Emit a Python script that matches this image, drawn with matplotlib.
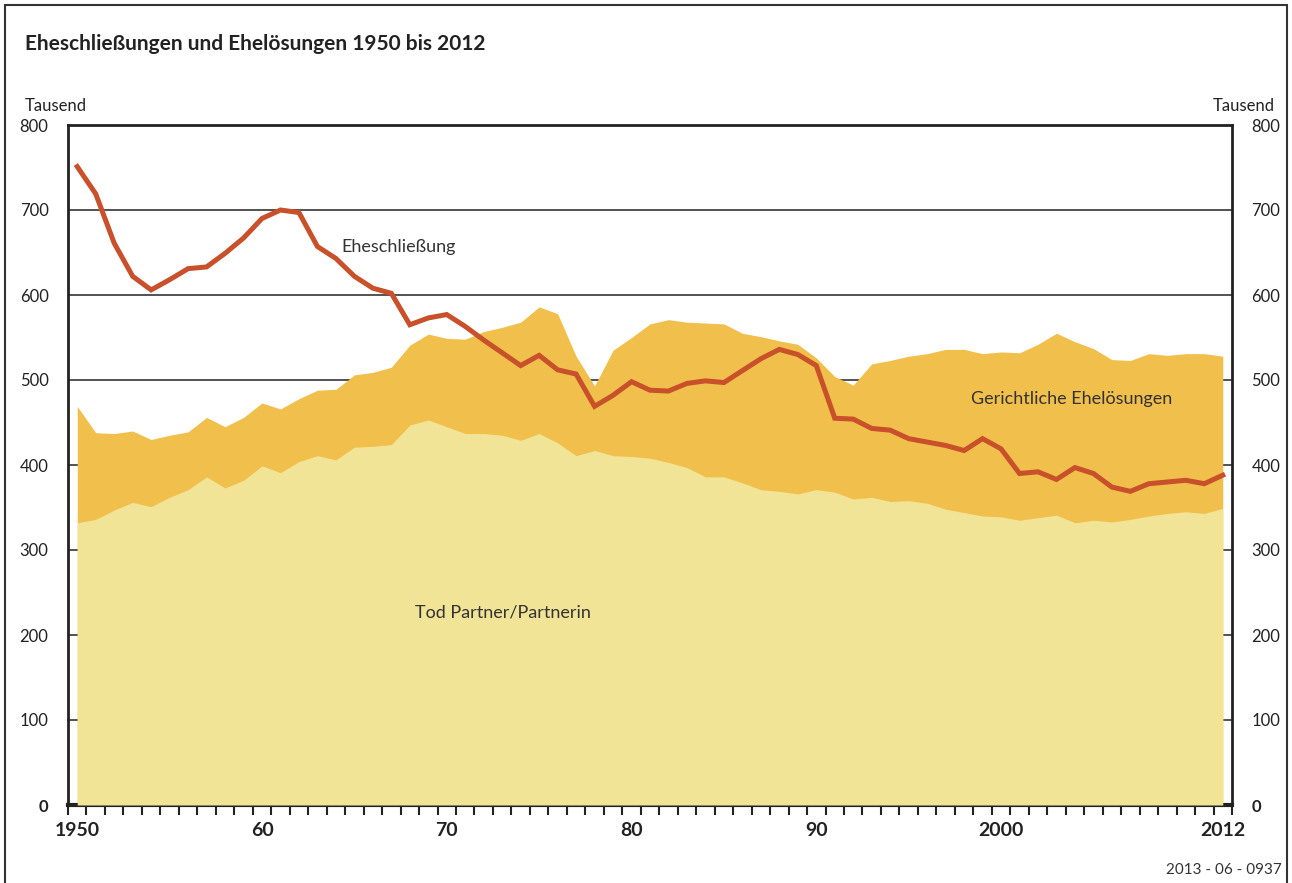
import matplotlib.pyplot as plt
from matplotlib.patches import Rectangle
import numpy as np

plt.rcParams['font.family'] = ['Lato', 'DejaVu Sans']

years = list(range(1950, 2013))

# Eheschliessungen (Tausend)
heirat = [751, 719, 661, 622, 606, 618, 631, 633, 649, 667, 690, 700, 697, 657, 643, 622,
          608, 602, 565, 573, 577, 563, 547, 532, 517, 529, 512, 507, 469, 482, 498, 488,
          487, 496, 499, 497, 511, 525, 536, 530, 517, 455, 454, 443, 441, 431, 427, 423,
          417, 431, 419, 390, 392, 383, 397, 390, 374, 369, 378, 380, 382, 378, 388]

# Ehelösungen durch Tod Partner/Partnerin
tod = [332, 336, 347, 356, 351, 362, 371, 386, 373, 382, 399, 391, 404, 411, 406, 421,
       422, 424, 447, 453, 445, 437, 437, 435, 429, 437, 426, 411, 417, 411, 410, 408,
       403, 397, 386, 386, 379, 371, 369, 366, 371, 368, 360, 362, 357, 358, 355, 348,
       344, 340, 339, 335, 338, 341, 332, 335, 333, 336, 340, 343, 345, 343, 349]

# Ehelösungen insgesamt (Tod + gerichtlich)
gesamt = [469, 438, 437, 440, 430, 435, 439, 456, 445, 456, 473, 466, 478, 488, 489, 506,
          509, 515, 541, 554, 549, 548, 557, 562, 568, 586, 578, 528, 493, 535, 550, 566,
          571, 568, 567, 566, 555, 551, 546, 542, 526, 504, 494, 519, 523, 528, 531, 536,
          536, 531, 533, 532, 542, 555, 545, 537, 524, 523, 531, 529, 531, 531, 528]

fig = plt.figure(figsize=(12.92, 8.83), dpi=100)
ax = fig.add_axes([68/1292, 1-805/883, (1232-68)/1292, (805-125)/883])

ax.fill_between(years, 0, gesamt, color='#f1bf4b', lw=0, zorder=2)
ax.fill_between(years, 0, tod, color='#f2e496', lw=0, zorder=3)
ax.plot(years, heirat, color='#c8502a', lw=3.6, zorder=4, solid_joinstyle='miter')

ax.set_xlim(1949.5, 2012.5)
ax.set_ylim(0, 800)

for v in range(100, 800, 100):
    ax.axhline(v, color='#444444', lw=1.3, zorder=1)

for s in ax.spines.values():
    s.set_color('#222222')
    s.set_linewidth(2)
ax.spines['bottom'].set_linewidth(3)

ax.set_yticks(range(0, 900, 100))
ax.set_yticklabels([str(v) for v in range(0, 900, 100)])
ax.tick_params(axis='y', length=0, labelsize=12, colors='#222222', pad=14,
               labelright=True, right=False)
for t in ax.yaxis.get_major_ticks():
    t.label2.set_horizontalalignment('left')
    if t.label1.get_text() == '0':
        t.label1.set_fontweight('bold')
        t.label2.set_fontweight('bold')

xlab_years = [1950, 1960, 1970, 1980, 1990, 2000, 2012]
xlab_text = ['1950', '60', '70', '80', '90', '2000', '2012']
ax.set_xticks(xlab_years)
ax.set_xticklabels(xlab_text, fontweight='bold', fontsize=14, color='#222222')
ax.tick_params(axis='x', which='major', length=0, pad=12)
ax.set_xticks(np.arange(1949.5, 2013, 1), minor=True)
ax.tick_params(axis='x', which='minor', length=7, width=1.5, color='#222222', direction='out')

ax.text(1964.3, 657, 'Eheschließung', fontsize=13, color='#333333', va='center', zorder=5)
ax.text(1998.4, 478, 'Gerichtliche Ehelösungen', fontsize=13, color='#333333', va='center', zorder=5)
ax.text(1968.3, 226, 'Tod Partner/Partnerin', fontsize=13, color='#333333', va='center', zorder=5)

fig.text(25/1292, 1-44/883, 'Eheschließungen und Ehelösungen 1950 bis 2012', fontsize=15,
         fontweight='bold', color='#222222', va='center')
fig.text(25/1292, 1-106/883, 'Tausend', fontsize=12, color='#222222', va='center')
fig.text(1275/1292, 1-106/883, 'Tausend', fontsize=12, color='#222222', va='center', ha='right')
fig.text(1282/1292, 1-870/883, '2013 - 06 - 0937', fontsize=11, color='#333333', va='center', ha='right')

fig.patches.append(Rectangle((5/1292, -0.05), (1287-5)/1292, 1-5/883+0.05,
                             transform=fig.transFigure, fill=False, ec='#333333', lw=1.5))

fig.savefig('out.png', dpi=100)
